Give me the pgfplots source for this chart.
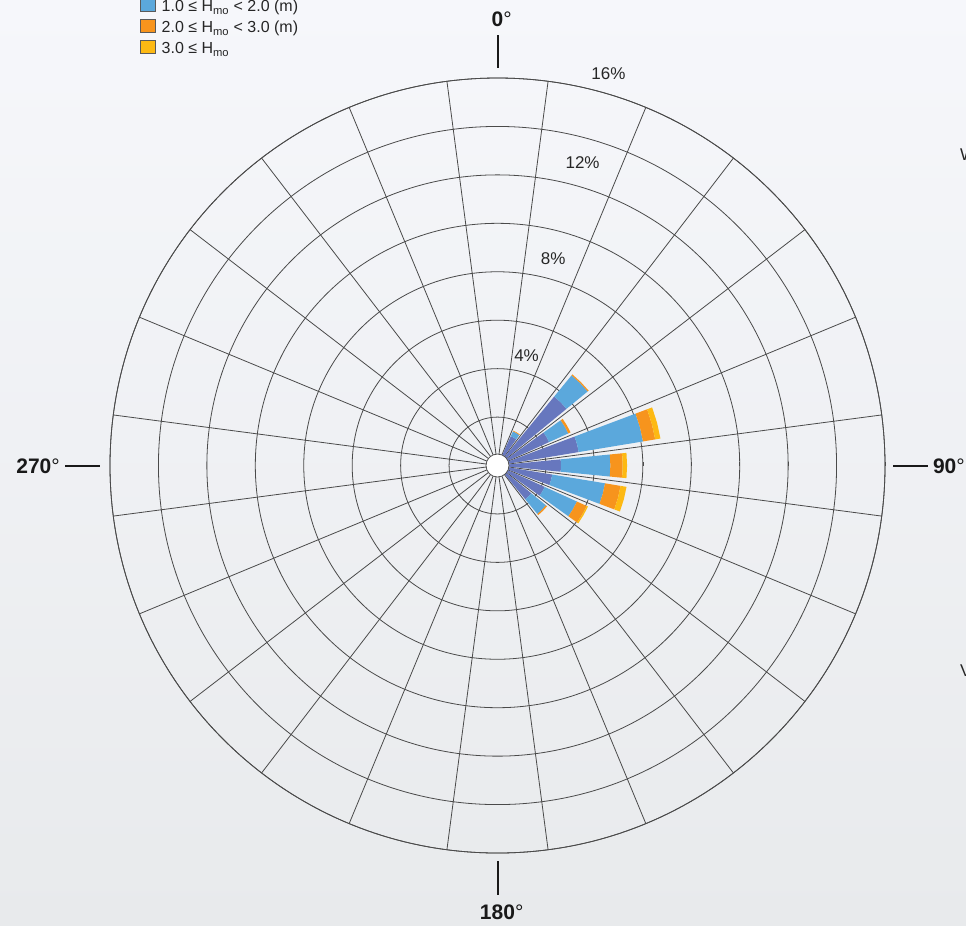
\documentclass[border=0pt]{standalone}
\usepackage{fontspec}
\setmainfont{Liberation Sans}
\usepackage{pgfplots}
\pgfplotsset{compat=1.18}
\usepgfplotslibrary{polar}
\definecolor{cDark}{HTML}{6777BE}
\definecolor{cLight}{HTML}{5BA8DC}
\definecolor{cOrange}{HTML}{F7941D}
\definecolor{cYellow}{HTML}{FDB913}
\definecolor{gridc}{HTML}{4A4A4A}
\definecolor{bgTop}{HTML}{F6F7FB}
\definecolor{bgMid}{HTML}{F2F3F6}
\definecolor{bgBot}{HTML}{E8EAEC}
\definecolor{txt}{HTML}{262626}
\definecolor{boxc}{HTML}{5A5A5A}
\begin{document}
\begin{tikzpicture}[x=1bp,y=1bp]
\useasboundingbox (0,0) rectangle (966,-926);
\clip (0,0) rectangle (966,-926);
\shade[top color=bgTop, middle color=bgMid, bottom color=bgBot] (0,0) rectangle (966,-926);

\begin{polaraxis}[
  at={(497.5bp,-465.5bp)}, anchor=center,
  scale only axis, width=775bp, height=775bp,
  ymin=0, ymax=16,
  xtick={7.5,22.5,...,352.5},
  ytick={2,4,...,16},
  xticklabels={}, yticklabels={},
  grid=major,
  major grid style={draw=gridc, line width=0.8bp},
  x axis line style={draw=gridc, line width=0.8bp},
  y axis line style={draw=none},
  xtick style={draw=none},
  ytick style={draw=gridc, line width=0.6bp},
  major tick length=4bp,
  clip=false,
]
% bearing 30 (angle 60)
\addplot[fill=cDark, draw=none] coordinates {(0,0) (54.4,1.33) (60,1.33) (65.6,1.33)};
\addplot[fill=cLight, draw=none] coordinates {(54.4,1.33) (60,1.33) (65.6,1.33) (65.6,1.55) (60,1.55) (54.4,1.55)};
\addplot[fill=cOrange, draw=none] coordinates {(54.4,1.55) (60,1.55) (65.6,1.55) (65.6,1.58) (60,1.58) (54.4,1.58)};
% bearing 45 (angle 45)
\addplot[fill=cDark, draw=none] coordinates {(0,0) (39.4,3.69) (45,3.69) (50.6,3.69)};
\addplot[fill=cLight, draw=none] coordinates {(39.4,3.69) (45,3.69) (50.6,3.69) (50.6,4.82) (45,4.82) (39.4,4.82)};
\addplot[fill=cOrange, draw=none] coordinates {(39.4,4.82) (45,4.82) (50.6,4.82) (50.6,4.87) (45,4.87) (39.4,4.87)};
% bearing 60 (angle 30)
\addplot[fill=cDark, draw=none] coordinates {(0,0) (24.4,2.34) (30,2.34) (35.6,2.34)};
\addplot[fill=cLight, draw=none] coordinates {(24.4,2.34) (30,2.34) (35.6,2.34) (35.6,3.21) (30,3.21) (24.4,3.21)};
\addplot[fill=cOrange, draw=none] coordinates {(24.4,3.21) (30,3.21) (35.6,3.21) (35.6,3.31) (30,3.31) (24.4,3.31)};
% bearing 75 (angle 15)
\addplot[fill=cDark, draw=none] coordinates {(0,0) (9.4,3.40) (15,3.40) (20.6,3.40)};
\addplot[fill=cLight, draw=none] coordinates {(9.4,3.40) (15,3.40) (20.6,3.40) (20.6,6.09) (15,6.09) (9.4,6.09)};
\addplot[fill=cOrange, draw=none] coordinates {(9.4,6.09) (15,6.09) (20.6,6.09) (20.6,6.60) (15,6.60) (9.4,6.60)};
\addplot[fill=cYellow, draw=none] coordinates {(9.4,6.60) (15,6.60) (20.6,6.60) (20.6,6.82) (15,6.82) (9.4,6.82)};
% bearing 90 (angle 0)
\addplot[fill=cDark, draw=none] coordinates {(0,0) (-5.6,2.62) (0,2.62) (5.6,2.62)};
\addplot[fill=cLight, draw=none] coordinates {(-5.6,2.62) (0,2.62) (5.6,2.62) (5.6,4.66) (0,4.66) (-5.6,4.66)};
\addplot[fill=cOrange, draw=none] coordinates {(-5.6,4.66) (0,4.66) (5.6,4.66) (5.6,5.17) (0,5.17) (-5.6,5.17)};
\addplot[fill=cYellow, draw=none] coordinates {(-5.6,5.17) (0,5.17) (5.6,5.17) (5.6,5.35) (0,5.35) (-5.6,5.35)};
% bearing 105 (angle -15)
\addplot[fill=cDark, draw=none] coordinates {(0,0) (-20.6,2.29) (-15,2.29) (-9.4,2.29)};
\addplot[fill=cLight, draw=none] coordinates {(-20.6,2.29) (-15,2.29) (-9.4,2.29) (-9.4,4.50) (-15,4.50) (-20.6,4.50)};
\addplot[fill=cOrange, draw=none] coordinates {(-20.6,4.50) (-15,4.50) (-9.4,4.50) (-9.4,5.15) (-15,5.15) (-20.6,5.15)};
\addplot[fill=cYellow, draw=none] coordinates {(-20.6,5.15) (-15,5.15) (-9.4,5.15) (-9.4,5.40) (-15,5.40) (-20.6,5.40)};
% bearing 120 (angle -30)
\addplot[fill=cDark, draw=none] coordinates {(0,0) (-35.6,2.14) (-30,2.14) (-24.4,2.14)};
\addplot[fill=cLight, draw=none] coordinates {(-35.6,2.14) (-30,2.14) (-24.4,2.14) (-24.4,3.60) (-30,3.60) (-35.6,3.60)};
\addplot[fill=cOrange, draw=none] coordinates {(-35.6,3.60) (-30,3.60) (-24.4,3.60) (-24.4,4.04) (-30,4.04) (-35.6,4.04)};
\addplot[fill=cYellow, draw=none] coordinates {(-35.6,4.04) (-30,4.04) (-24.4,4.04) (-24.4,4.10) (-30,4.10) (-35.6,4.10)};
% bearing 135 (angle -45)
\addplot[fill=cDark, draw=none] coordinates {(0,0) (-50.6,1.81) (-45,1.81) (-39.4,1.81)};
\addplot[fill=cLight, draw=none] coordinates {(-50.6,1.81) (-45,1.81) (-39.4,1.81) (-39.4,2.59) (-45,2.59) (-50.6,2.59)};
\addplot[fill=cOrange, draw=none] coordinates {(-50.6,2.59) (-45,2.59) (-39.4,2.59) (-39.4,2.65) (-45,2.65) (-50.6,2.65)};

% centre hole
\draw[gridc, line width=0.75bp, fill=white] (axis cs:0,0) circle[radius=11.5bp];

% ring labels
\node[txt, font=\fontsize{17bp}{20bp}\selectfont] at (axis cs:75.2,4.70) {4\%};
\node[txt, font=\fontsize{17bp}{20bp}\selectfont] at (axis cs:74.9,8.84) {8\%};
\node[txt, font=\fontsize{17bp}{20bp}\selectfont] at (axis cs:74.3,12.98) {12\%};
\node[txt, font=\fontsize{17bp}{20bp}\selectfont] at (axis cs:74.2,16.82) {16\%};
\end{polaraxis}

% compass direction marks
\draw[black!90, line width=2bp] (497.5,-35) -- (497.5,-68);
\draw[black!90, line width=2bp] (497.5,-861) -- (497.5,-895);
\draw[black!90, line width=2bp] (65,-465.5) -- (100,-465.5);
\draw[black!90, line width=2bp] (893,-465.5) -- (928,-465.5);
\node[anchor=base, inner sep=0pt, text=black!90, font=\fontsize{21bp}{24bp}\selectfont] at (497.5,-26) {\textbf{0}\rlap{°}};
\node[anchor=base, inner sep=0pt, text=black!90, font=\fontsize{21bp}{24bp}\selectfont] at (497.5,-919) {\textbf{180}\rlap{°}};
\node[anchor=base east, inner sep=0pt, text=black!90, font=\fontsize{21bp}{24bp}\selectfont] at (60,-473) {\textbf{270}°};
\node[anchor=base east, inner sep=0pt, text=black!90, font=\fontsize{21bp}{24bp}\selectfont] at (965,-473) {\textbf{90}°};

% legend (top rows cropped as in the reference)
\foreach \yc/\col/\lab in {-17/cDark/{0.0 ≤ H\textsubscript{mo} < 1.0 (m)},
                           4.5/cLight/{1.0 ≤ H\textsubscript{mo} < 2.0 (m)},
                           25.8/cOrange/{2.0 ≤ H\textsubscript{mo} < 3.0 (m)},
                           46.7/cYellow/{3.0 ≤ H\textsubscript{mo}}} {
  \filldraw[fill=\col, draw=boxc, line width=0.8bp] (140,-\yc+6.5) rectangle (155.7,-\yc-6.5);
  \node[anchor=base west, inner sep=0pt, text=txt, font=\fontsize{16bp}{19bp}\selectfont] at (161.5,-\yc-7) {\lab};
}

% cropped text at the right edge
\node[anchor=base west, inner sep=0pt, text=txt, font=\fontsize{17bp}{20bp}\selectfont] at (960,-160) {W};
\node[anchor=base west, inner sep=0pt, text=txt, font=\fontsize{17bp}{20bp}\selectfont] at (960,-676) {V};
\end{tikzpicture}
\end{document}
